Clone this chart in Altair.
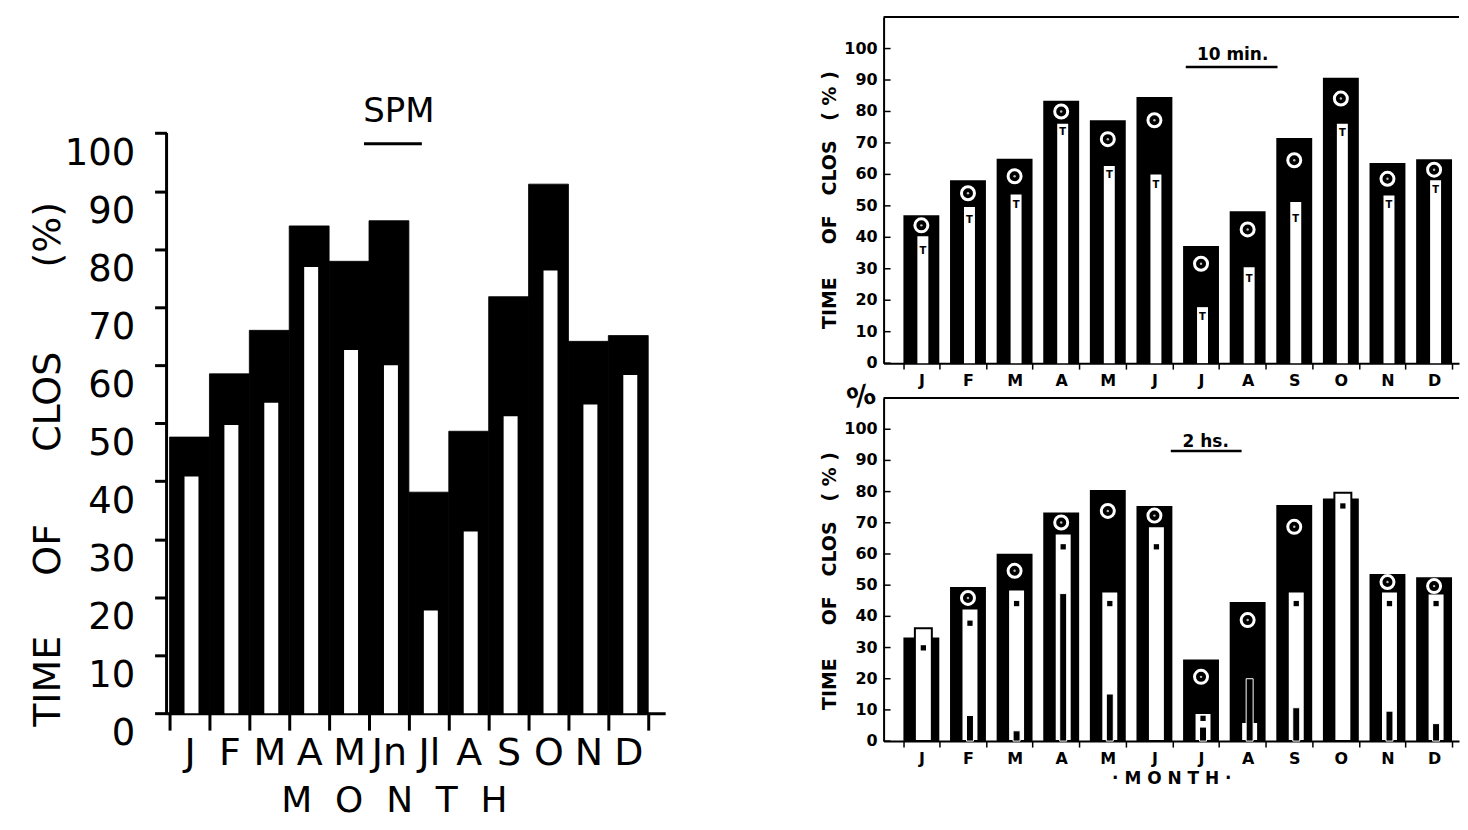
import altair as alt
import pandas as pd

# ---------------- data ----------------
month_index = list(range(1, 13))
left_labels = ["J", "F", "M", "A", "M", "Jn", "Jl", "A", "S", "O", "N", "D"]
right_labels = ["J", "F", "M", "A", "M", "J", "J", "A", "S", "O", "N", "D"]
y_ticks = [0, 10, 20, 30, 40, 50, 60, 70, 80, 90, 100]

# SPM panel (black = total, white inner bar)
spm_total = [47.6, 58.5, 66.0, 84.0, 77.9, 84.9, 38.1, 48.6, 71.8, 91.2, 64.1, 65.1]
spm_open = [40.8, 49.7, 53.5, 76.9, 62.6, 60.0, 17.7, 31.3, 51.2, 76.3, 53.2, 58.3]

# 10 min panel
m10_total = [47.0, 58.1, 65.0, 83.4, 77.2, 84.6, 37.2, 48.3, 71.6, 90.7, 63.6, 64.8]
m10_open = [40.3, 49.6, 53.6, 76.1, 62.7, 60.0, 17.8, 30.5, 51.2, 76.1, 53.3, 58.1]
m10_circle = [43.8, 54.0, 59.4, 80.0, 71.2, 77.2, 31.6, 42.5, 64.5, 84.1, 58.6, 61.5]
m10_mark = [35.8, 45.4, 50.2, 73.5, 59.7, 56.7, 14.6, 26.8, 45.9, 73.0, 50.2, 55.0]

# 2 hs panel
h2_total = [33.2, 49.4, 60.1, 73.3, 80.5, 75.4, 26.2, 44.6, 75.7, 77.8, 53.6, 52.5]
h2_open = [36.2, 42.5, 48.6, 66.6, 48.0, 68.9, 9.0, 6.1, 48.0, 79.6, 48.0, 47.3]
h2_inner = [None, 8.2, 3.3, 47.3, 15.1, None, 4.5, 20.0, 10.7, None, 9.6, 5.6]
h2_circle = [None, 45.9, 54.6, 70.1, 73.8, 72.3, 20.6, 38.8, 68.7, None, 51.0, 49.7]
h2_star = [29.9, 37.8, 44.1, 62.3, 44.1, 62.3, 7.3, None, 44.1, 75.4, 44.1, 44.1]

FONT = "DejaVu Sans"
NB = "\u00a0"

# ---------------- left panel (SPM) ----------------
WL, HL = 500, 698


def js_array(labels):
    return "[" + ",".join("'" + s + "'" for s in labels) + "]"


left_title_y = "TIME" + NB * 5 + "OF" + NB * 6 + "CLOS" + NB * 7 + "(%)"
left_title_x = (NB * 2).join(list("MONTH"))


def xl():
    return alt.X(
        "m:O",
        scale=alt.Scale(paddingInner=0, paddingOuter=0.25, align=0.15),
        axis=alt.Axis(
            labelExpr=js_array(left_labels) + "[datum.value - 1]",
            labelAngle=0, labelFont=FONT, labelFontSize=38, labelColor="black",
            labelPadding=4, tickBand="extent", tickSize=17, tickWidth=3,
            tickColor="black", domainColor="black", domainWidth=3,
            title=left_title_x, titleFont=FONT, titleFontSize=36,
            titleFontWeight="normal", titleColor="black", titlePadding=12,
            titleX=228,
        ),
    )


def yl(field):
    return alt.Y(
        field,
        scale=alt.Scale(domain=[0, 120], nice=False),
        axis=alt.Axis(
            values=y_ticks, domain=False, grid=False, tickSize=12, tickWidth=3,
            tickColor="black", labelFont=FONT, labelFontSize=37,
            labelColor="black", labelPadding=20, labelOffset=20,
            labelOverlap=False,
            title=left_title_y, titleFont=FONT, titleFontSize=38,
            titleFontWeight="normal", titleColor="black", titlePadding=-3,
            titleY=448,
        ),
    )


df_left = pd.DataFrame({"m": month_index, "total": spm_total, "open": spm_open})
one = pd.DataFrame({"k": [0]})

left_black = alt.Chart(df_left).mark_bar(
    color="black", stroke="black", strokeWidth=0.8
).encode(x=xl(), y=yl("total:Q"))
left_white = alt.Chart(df_left).mark_bar(
    color="white", size=14, xOffset=2
).encode(x=xl(), y=yl("open:Q"))
left_axisline = alt.Chart(one).mark_rule(color="black", strokeWidth=3).encode(
    x=alt.value(0), y=alt.datum(0), y2=alt.datum(100)
)
left_label = alt.Chart(one).mark_text(
    text="SPM", font=FONT, fontSize=34, color="black", baseline="middle"
).encode(x=alt.value(233), y=alt.value(95))
left_underline = alt.Chart(one).mark_rule(color="black", strokeWidth=3).encode(
    x=alt.value(198), x2=alt.value(256), y=alt.value(127)
)

left = alt.layer(
    left_black, left_white, left_axisline, left_label, left_underline
).properties(width=WL, height=HL)

# ---------------- right panels ----------------
WR, HT, HB = 577, 347, 344
right_title_y = "TIME" + NB * 5 + "OF" + NB * 3 + "CLOS" + NB * 3 + "(" + NB + "%" + NB + ")"
month_title = "·" + NB + NB.join(list("MONTH")) + NB + "·"


def xr(title):
    return alt.X(
        "m:O",
        scale=alt.Scale(paddingInner=0.23, paddingOuter=0.2875, align=0.74),
        axis=alt.Axis(
            labelExpr=js_array(right_labels) + "[datum.value - 1]",
            labelAngle=0, labelFont=FONT, labelFontSize=16,
            labelFontWeight="bold", labelColor="black", labelPadding=3,
            tickBand="extent", tickSize=6, tickWidth=1.5, tickColor="black",
            domainColor="black", domainWidth=2,
            title=title, titleFont=FONT, titleFontSize=17,
            titleFontWeight="bold", titleColor="black", titlePadding=5,
        ),
    )


def yr(field):
    return alt.Y(
        field,
        scale=alt.Scale(domain=[0, 110], nice=False),
        axis=alt.Axis(
            values=y_ticks, grid=False, ticks=False, labels=False,
            domainColor="black", domainWidth=2,
            title=right_title_y, titleFont=FONT, titleFontSize=19,
            titleFontWeight="bold", titleColor="black", titlePadding=44,
            titleY=183,
        ),
    )


tick_df = pd.DataFrame({"v": y_ticks})


def decorations(width, label, label_x, label_y, ul_x1, ul_x2, ul_y):
    frame = alt.Chart(one).mark_rule(color="black", strokeWidth=2).encode(
        y=alt.datum(110), x=alt.value(0), x2=alt.value(width)
    )
    ticks = alt.Chart(tick_df).mark_rule(color="black", strokeWidth=1.5).encode(
        y=yr("v:Q"), x=alt.value(0), x2=alt.value(7)
    )
    tick_labels = alt.Chart(tick_df).mark_text(
        font=FONT, fontSize=16, fontWeight="bold", color="black",
        align="right", baseline="middle", dx=-6,
    ).encode(y=yr("v:Q"), x=alt.value(0), text=alt.Text("v:Q"))
    txt = alt.Chart(one).mark_text(
        text=label, font=FONT, fontSize=17, fontWeight="bold", color="black",
        baseline="middle",
    ).encode(x=alt.value(label_x), y=alt.value(label_y))
    ul = alt.Chart(one).mark_rule(color="black", strokeWidth=2.5).encode(
        x=alt.value(ul_x1), x2=alt.value(ul_x2), y=alt.value(ul_y)
    )
    return [frame, ticks, tick_labels, txt, ul]


df_top = pd.DataFrame({
    "m": month_index, "total": m10_total, "open": m10_open,
    "circle": m10_circle, "mark": m10_mark,
})

top_layers = [
    alt.Chart(df_top).mark_bar(color="black").encode(x=xr(None), y=yr("total:Q")),
    alt.Chart(df_top).mark_bar(color="white", size=11, xOffset=1.5).encode(
        x=xr(None), y=yr("open:Q")),
    alt.Chart(df_top).mark_point(
        shape="circle", filled=False, stroke="white", strokeWidth=3, size=170,
        opacity=1,
    ).encode(x=xr(None), y=yr("circle:Q")),
    alt.Chart(df_top).mark_point(
        shape="circle", filled=True, color="#bbbbbb", size=6, opacity=1,
    ).encode(x=xr(None), y=yr("circle:Q")),
    alt.Chart(df_top).mark_text(
        text="T", font=FONT, fontSize=10, fontWeight="bold", color="black",
        baseline="middle", xOffset=1.5,
    ).encode(x=xr(None), y=yr("mark:Q")),
] + decorations(WR, "10 min.", 350, 38, 303, 395, 50)

top = alt.layer(*top_layers).properties(width=WR, height=HT)

df_bot = pd.DataFrame({
    "m": month_index, "total": h2_total, "open": h2_open, "inner": h2_inner,
    "circle": h2_circle, "star": h2_star,
})

pct = alt.Chart(one).mark_text(
    text="%", font=FONT, fontSize=28, fontWeight="bold", color="black",
    baseline="middle", angle=345,
).encode(x=alt.value(-22), y=alt.value(0))

bot_layers = [
    alt.Chart(df_bot).mark_bar(color="black").encode(x=xr(month_title), y=yr("total:Q")),
    alt.Chart(df_bot).mark_bar(
        fill="white", stroke="black", strokeWidth=2, size=17, xOffset=2
    ).encode(x=xr(month_title), y=yr("open:Q")),
    alt.Chart(df_bot).mark_bar(
        fill="black", stroke="white", strokeWidth=1, size=7, xOffset=2
    ).encode(x=xr(month_title), y=yr("inner:Q")),
    alt.Chart(df_bot).mark_point(
        shape="circle", filled=False, stroke="white", strokeWidth=3, size=170,
        opacity=1,
    ).encode(x=xr(month_title), y=yr("circle:Q")),
    alt.Chart(df_bot).mark_point(
        shape="circle", filled=True, color="#bbbbbb", size=6, opacity=1,
    ).encode(x=xr(month_title), y=yr("circle:Q")),
    alt.Chart(df_bot).mark_point(
        shape="square", filled=True, color="black", size=28, opacity=1,
        xOffset=2,
    ).encode(x=xr(month_title), y=yr("star:Q")),
    pct,
] + decorations(WR, "2 hs.", 323, 44, 288, 359, 53)

bottom = alt.layer(*bot_layers).properties(width=WR, height=HB)

right = alt.vconcat(top, bottom, spacing=35, bounds="flush")

chart = alt.hconcat(left, right, spacing=156).properties(
    padding={"left": 21, "top": 7, "right": 0, "bottom": 0},
    background="white",
).configure(
    font=FONT
).configure_view(
    strokeWidth=0, stroke="transparent"
).configure_axis(
    labelOverlap=False
)

chart.save("out.html", embed_options={"renderer": "svg", "actions": False})
